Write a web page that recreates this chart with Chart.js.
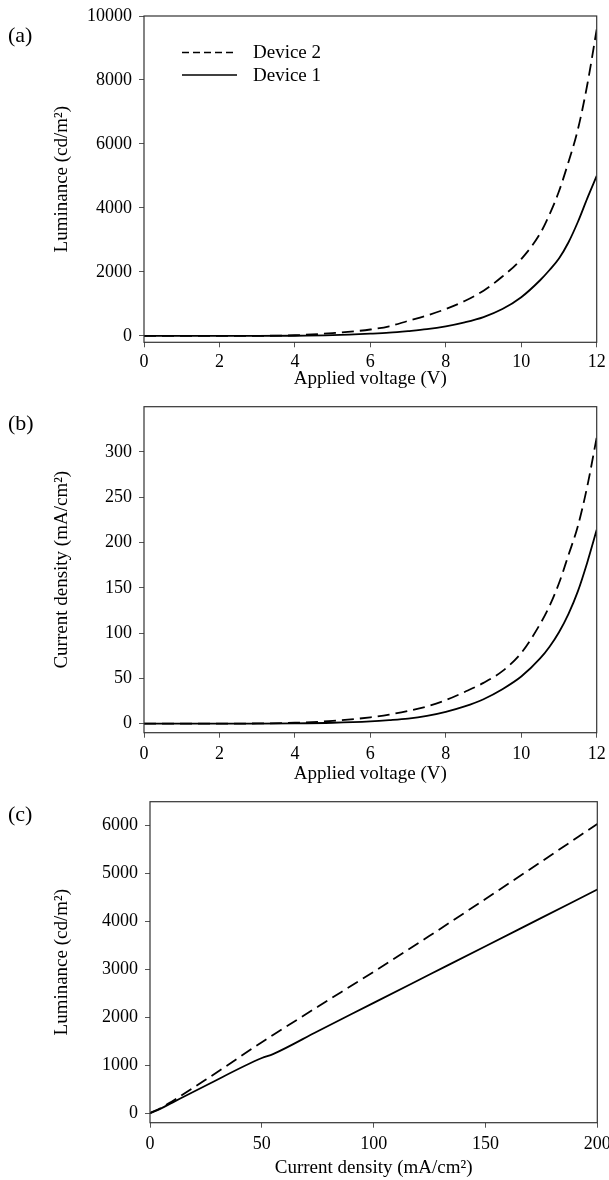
<!DOCTYPE html>
<html>
<head>
<meta charset="utf-8">
<script src="https://cdn.jsdelivr.net/npm/chart.js@4.4.0/dist/chart.umd.min.js"></script>
<style>
  body { margin: 0; background: #fff; width: 609px; height: 1180px; position: relative; overflow: hidden; font-family: "Liberation Serif", serif; }
  canvas { position: absolute; left: 0; }
  .tag { position: absolute; left: 8px; font-size: 22px; line-height: 22px; color: #000; }
</style>
</head>
<body>
<canvas id="chartA" width="609" height="390" style="top:0"></canvas>
<canvas id="chartB" width="609" height="395" style="top:390px"></canvas>
<canvas id="chartC" width="609" height="395" style="top:785px"></canvas>
<div class="tag" style="top:24px">(a)</div>
<div class="tag" style="top:412px">(b)</div>
<div class="tag" style="top:803px">(c)</div>
<script>
// ---------- DATA ----------

// (a) and (b): applied voltage (V)
const voltage = [0, 1, 2, 3, 4, 5, 6, 6.5, 7, 7.5, 8, 8.5, 9, 9.5, 10, 10.5, 10.75, 11, 11.25, 11.5, 11.75, 12];
// luminance (cd/m2)
const lumDev2 = [0, 0, 0, 2, 20, 90, 200, 300, 470, 640, 840, 1090, 1415, 1855, 2400, 3200, 3800, 4520, 5430, 6450, 7850, 9580];
const lumDev1 = [0, 0, 0, 0, 5, 25, 70, 100, 150, 210, 300, 425, 590, 840, 1210, 1740, 2060, 2420, 2920, 3560, 4300, 5000];
// current density (mA/cm2)
const curDev2 = [0, 0, 0, 0.2, 1, 3, 7, 10, 14, 19, 26, 35, 45, 58, 78, 110, 130, 155, 186, 218, 262, 316];
const curDev1 = [0, 0, 0, 0, 0.3, 1, 2.5, 3.8, 5.5, 8.5, 13, 19, 27, 38, 52, 72, 85, 101, 121, 146, 178, 214];

// (c): luminance vs current density
const current = [0, 5, 10, 25, 50, 55, 75, 100, 125, 150, 175, 200];
const lumJDev2 = [0, 110, 250, 700, 1480, 1630, 2220, 2950, 3700, 4470, 5250, 6036];
const lumJDev1 = [0, 100, 220, 577, 1150, 1232, 1710, 2300, 2892, 3484, 4075, 4666];

// tick labels
const voltTicks = [0, 2, 4, 6, 8, 10, 12];
const lumTicksA = [0, 2000, 4000, 6000, 8000, 10000];
const curTicksB = [0, 50, 100, 150, 200, 250, 300];
const curTicksC = [0, 50, 100, 150, 200];
const lumTicksC = [0, 1000, 2000, 3000, 4000, 5000, 6000];

const legendNames = ['Device 2', 'Device 1'];

// ---------- HELPERS ----------

const FONT = '"Liberation Serif", "Times New Roman", serif';
const DASH = [12, 6];

function pts(xs, ys) {
  return xs.map((x, i) => ({ x: x, y: ys[i] }));
}

function series(label, xs, ys, dashed) {
  return {
    label: label,
    data: pts(xs, ys),
    borderColor: '#000',
    borderWidth: 1.8,
    borderDash: dashed ? DASH : [],
    pointRadius: 0,
    fill: false,
    cubicInterpolationMode: 'monotone'
  };
}

// box around the plot area
const framePlugin = {
  id: 'frame',
  afterDraw(chart) {
    const a = chart.chartArea, ctx = chart.ctx;
    ctx.save();
    ctx.strokeStyle = '#333';
    ctx.lineWidth = 1.2;
    ctx.strokeRect(a.left, a.top, a.right - a.left, a.bottom - a.top);
    ctx.restore();
  }
};

// legend inside panel (a)
const legendPlugin = {
  id: 'innerLegend',
  afterDraw(chart, args, opts) {
    if (!opts.show) return;
    const a = chart.chartArea, ctx = chart.ctx;
    const rows = [{ y: a.top + 36.5, dash: [7, 4] }, { y: a.top + 59, dash: [] }];
    ctx.save();
    rows.forEach((r, i) => {
      ctx.beginPath();
      ctx.setLineDash(r.dash);
      ctx.lineWidth = 1.6;
      ctx.strokeStyle = '#000';
      ctx.moveTo(a.left + 38, r.y);
      ctx.lineTo(a.left + 93, r.y);
      ctx.stroke();
      ctx.setLineDash([]);
      ctx.fillStyle = '#000';
      ctx.font = '19px ' + FONT;
      ctx.textBaseline = 'middle';
      ctx.fillText(legendNames[i], a.left + 109, r.y + 1);
    });
    ctx.restore();
  }
};

function makeChart(id, cfg) {
  return new Chart(document.getElementById(id), {
    type: 'line',
    data: { datasets: cfg.datasets },
    options: {
      responsive: false,
      animation: false,
      layout: { padding: { top: cfg.padTop, right: cfg.padRight, bottom: cfg.padBottom, left: 0 } },
      plugins: {
        legend: { display: false },
        tooltip: { enabled: false },
        innerLegend: { show: !!cfg.legend }
      },
      scales: {
        x: {
          type: 'linear',
          min: cfg.xMin,
          max: cfg.xMax,
          border: { display: false },
          grid: { drawOnChartArea: false, drawTicks: true, tickLength: 5, color: '#555' },
          ticks: { color: '#000', padding: cfg.xPad, maxRotation: 0, font: { family: FONT, size: 18 }, callback: v => String(v) },
          title: { display: true, text: cfg.xTitle, color: '#000', padding: 0, font: { family: FONT, size: 19 } },
          afterBuildTicks: s => { s.ticks = cfg.xTicks.map(v => ({ value: v })); },
          afterFit: s => { s.height = cfg.xHeight; s.paddingLeft = 0; s.paddingRight = 0; }
        },
        y: {
          type: 'linear',
          min: cfg.yMin,
          max: cfg.yMax,
          border: { display: false },
          grid: { drawOnChartArea: false, drawTicks: true, tickLength: 5, color: '#555' },
          ticks: { color: '#000', padding: 7, font: { family: FONT, size: 18 }, callback: v => String(v) },
          title: { display: true, text: cfg.yTitle, color: '#000', padding: { top: 51, bottom: 0 }, font: { family: FONT, size: 19 } },
          afterBuildTicks: s => { s.ticks = cfg.yTicks.map(v => ({ value: v })); },
          afterFit: s => { s.width = cfg.yWidth; s.paddingTop = 0; s.paddingBottom = 0; }
        }
      }
    },
    plugins: [framePlugin, legendPlugin]
  });
}

// ---------- CHARTS ----------

// (a) Luminance vs voltage
makeChart('chartA', {
  datasets: [series('Device 2', voltage, lumDev2, true), series('Device 1', voltage, lumDev1, false)],
  xMin: 0, xMax: 12, xTicks: voltTicks, xTitle: 'Applied voltage (V)', xPad: 4,
  yMin: -200, yMax: 10000, yTicks: lumTicksA, yTitle: 'Luminance (cd/m²)',
  padTop: 16, padRight: 12.3, padBottom: 0, xHeight: 47.7, yWidth: 144,
  legend: true
});

// (b) Current density vs voltage
makeChart('chartB', {
  datasets: [series('Device 2', voltage, curDev2, true), series('Device 1', voltage, curDev1, false)],
  xMin: 0, xMax: 12, xTicks: voltTicks, xTitle: 'Applied voltage (V)', xPad: 6,
  yMin: -10, yMax: 350, yTicks: curTicksB, yTitle: 'Current density (mA/cm²)',
  padTop: 16.7, padRight: 12.3, padBottom: 0, xHeight: 52.3, yWidth: 144
});

// (c) Luminance vs current density
makeChart('chartC', {
  datasets: [series('Device 2', current, lumJDev2, true), series('Device 1', current, lumJDev1, false)],
  xMin: 0, xMax: 200, xTicks: curTicksC, xTitle: 'Current density (mA/cm²)', xPad: 6,
  yMin: -200, yMax: 6500, yTicks: lumTicksC, yTitle: 'Luminance (cd/m²)',
  padTop: 16.7, padRight: 11.7, padBottom: 0.6, xHeight: 56.7, yWidth: 150
});
</script>
</body>
</html>
